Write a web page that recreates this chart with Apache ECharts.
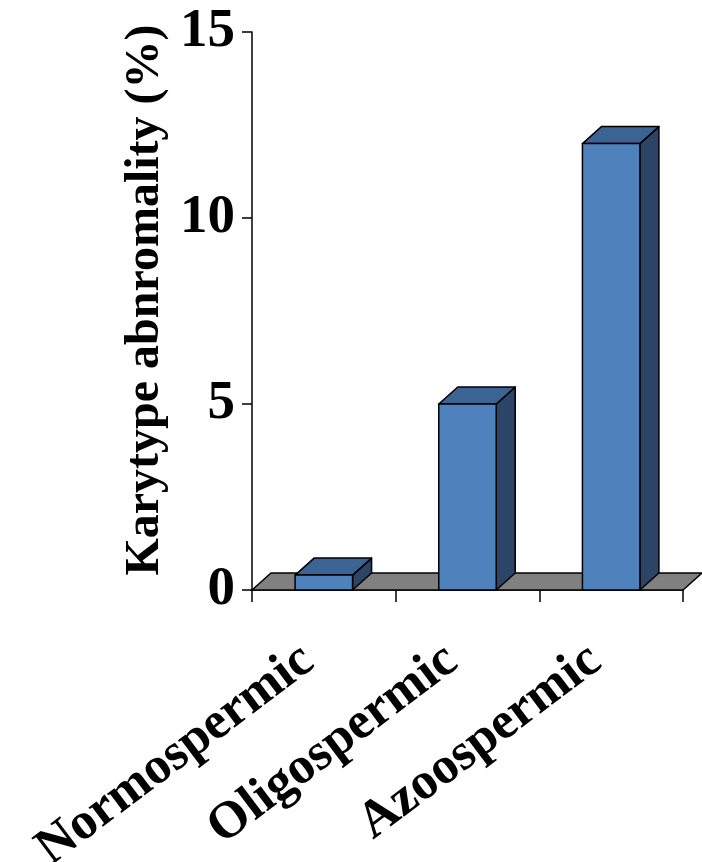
<!DOCTYPE html>
<html>
<head>
<meta charset="utf-8">
<script src="https://cdn.jsdelivr.net/npm/echarts@6/dist/echarts.min.js"></script>
<style>
html,body{margin:0;padding:0;background:#fff;overflow:hidden;}
#chart{width:702px;height:862px;}
</style>
</head>
<body>
<div id="chart"></div>
<script>
var categories = ['Normospermic', 'Oligospermic', 'Azoospermic'];
var values = [0.4, 5, 12];
var yTicks = [0, 5, 10, 15];
var yName = 'Karytype abnromality (%)';

var DX = 19, DY = -17;
var FONT = '"Liberation Serif", "Times New Roman", serif';
var FRONT = '#4F81BD', TOP = '#3B6393', SIDE = '#2B4467';

var chart = echarts.init(document.getElementById('chart'), null, {width: 702, height: 862});

function barItem(params, api) {
  var idx = api.value(0);
  var v = api.value(1);
  var top = api.coord([idx, v]);
  var base = api.coord([idx, 0]);
  var bw = api.size([1, 0])[0] * 0.4;
  var x0 = top[0] - bw / 2, x1 = top[0] + bw / 2;
  var y0 = top[1], y1 = base[1];
  var st = {stroke: '#000', lineWidth: 1.5, lineJoin: 'round'};
  return {
    type: 'group',
    children: [
      {type: 'polygon', shape: {points: [[x1, y0], [x1 + DX, y0 + DY], [x1 + DX, y1 + DY], [x1, y1]]},
        style: Object.assign({fill: SIDE}, st)},
      {type: 'polygon', shape: {points: [[x0, y0], [x0 + DX, y0 + DY], [x1 + DX, y0 + DY], [x1, y0]]},
        style: Object.assign({fill: TOP}, st)},
      {type: 'rect', shape: {x: x0, y: y0, width: bw, height: y1 - y0},
        style: Object.assign({fill: FRONT}, st)}
    ]
  };
}

function floorItem(params, api) {
  var cs = params.coordSys;
  var y = api.coord([0, 0])[1];
  var xl = cs.x, xr = cs.x + cs.width;
  return {
    type: 'polygon',
    shape: {points: [[xl, y], [xl + DX, y + DY], [xr + DX, y + DY], [xr, y]]},
    style: {fill: '#808080', stroke: '#000', lineWidth: 1.5}
  };
}

var option = {
  animation: false,
  backgroundColor: '#fff',
  grid: {left: 252, width: 431, top: 32, height: 558, containLabel: false, outerBoundsMode: 'none'},
  xAxis: {
    type: 'category',
    data: categories,
    boundaryGap: true,
    axisLine: {show: true, lineStyle: {color: '#000', width: 1.5}},
    axisTick: {show: true, length: 12, alignWithLabel: false, lineStyle: {color: '#000', width: 1.5}},
    axisLabel: {
      rotate: 37, interval: 0, margin: 86, verticalAlign: 'bottom',
      fontFamily: FONT, fontWeight: 'bold', fontSize: 52, color: '#000'
    },
    splitLine: {show: false}
  },
  yAxis: {
    type: 'value',
    min: yTicks[0], max: yTicks[yTicks.length - 1], interval: 5,
    name: yName,
    nameLocation: 'middle',
    nameGap: 80,
    nameTextStyle: {fontFamily: FONT, fontWeight: 'bold', fontSize: 48, color: '#000', padding: [0, 0, 0, 22]},
    axisLine: {show: true, lineStyle: {color: '#000', width: 1.5}},
    axisTick: {show: true, length: 10, lineStyle: {color: '#000', width: 1.5}},
    axisLabel: {margin: 17, fontFamily: FONT, fontWeight: 'bold', fontSize: 55, color: '#000'},
    splitLine: {show: false}
  },
  series: [
    {type: 'custom', renderItem: floorItem, data: [[0, 0]], z: 1, silent: true},
    {type: 'custom', renderItem: barItem, data: values.map(function (v, i) { return [i, v]; }), z: 3,
      encode: {x: 0, y: 1}}
  ]
};
chart.setOption(option);
</script>
</body>
</html>
